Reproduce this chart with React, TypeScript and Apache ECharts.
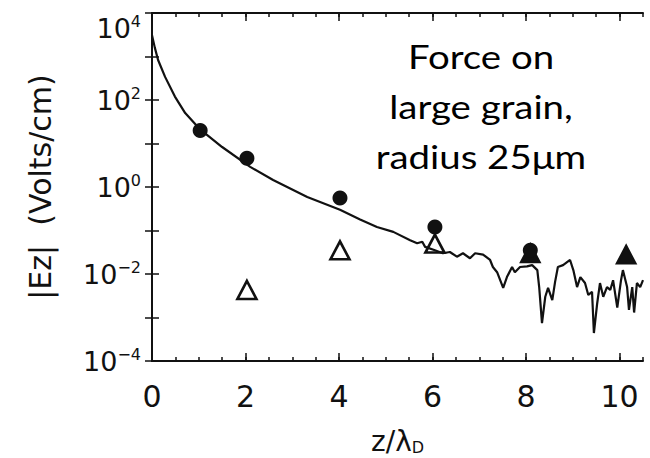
import React, { useEffect, useRef } from "react";
import * as echarts from "echarts";

// ---- data ----
const xTickValues = [0, 2, 4, 6, 8, 10];
const yLabelExponents = [-4, -2, 0, 2, 4];

const curveZ = [
  0, 0.06, 0.13, 0.28, 0.49, 0.71, 1.03, 1.5, 2.1, 2.59,
  3.32, 4.02, 4.45, 4.81, 5.16, 5.52, 5.67, 5.78, 5.84, 6.05,
  6.22, 6.37, 6.52, 6.65, 6.8, 6.91, 7.08, 7.23, 7.29, 7.38,
  7.51, 7.59, 7.7, 7.76, 7.87, 8.02, 8.13, 8.24, 8.28, 8.34,
  8.41, 8.47, 8.56, 8.62, 8.68, 8.79, 8.94, 9.01, 9.09, 9.16,
  9.26, 9.33, 9.41, 9.45, 9.52, 9.58, 9.65, 9.73, 9.8, 9.86,
  9.95, 10.03, 10.07, 10.16, 10.2, 10.27, 10.31, 10.37, 10.44, 10.5,
];
const curveE = [
  3100, 1600, 830, 340, 120, 50, 21, 8.3, 2.9, 1.45,
  0.59, 0.3, 0.18, 0.12, 0.093, 0.06, 0.051, 0.055, 0.042, 0.035,
  0.03, 0.032, 0.025, 0.03, 0.023, 0.03, 0.028, 0.021, 0.0145, 0.011,
  0.0048, 0.0085, 0.0145, 0.011, 0.0145, 0.015, 0.016, 0.0123, 0.005, 0.00074,
  0.003, 0.0048, 0.0025, 0.0066, 0.0145, 0.016, 0.021, 0.0123, 0.005, 0.0085,
  0.0062, 0.0033, 0.0039, 0.00044, 0.0021, 0.0062, 0.003, 0.005, 0.0043, 0.0072,
  0.0017, 0.0072, 0.0123, 0.005, 0.0015, 0.005, 0.0013, 0.0062, 0.005, 0.0072,
];

const circleZ = [1.03, 2.03, 4.02, 6.05, 8.09];
const circleE = [20, 4.6, 0.56, 0.12, 0.035];

const triangleZ = [2.03, 4.02, 6.05, 8.09, 10.14];
const triangleE = [0.0043, 0.035, 0.05, 0.03, 0.028];
const triangleFilled = [false, false, false, true, true];

const annotationLines = ["Force on", "large grain,", "radius 25μm"];

const INK = "#111";
const FONT = "DejaVu Sans";

export default function App() {
  const ref = useRef<HTMLDivElement>(null);

  useEffect(() => {
    if (!ref.current) return;
    const chart = echarts.init(ref.current, undefined, { renderer: "svg" });

    const tickBase = {
      inside: true,
      lineStyle: { color: INK, width: 1.5 },
    };

    const xMajor = (position: "bottom" | "top", labels: boolean) => ({
      type: "value",
      position,
      min: 0,
      max: 10.5,
      interval: 2,
      axisLine: { show: true, lineStyle: { color: INK, width: 2 } },
      axisTick: { ...tickBase, length: 8, customValues: xTickValues },
      splitLine: { show: false },
      axisLabel: labels
        ? {
            show: true,
            margin: 20,
            fontSize: 30,
            fontFamily: FONT,
            color: INK,
            customValues: xTickValues,
            formatter: (v: number) => String(v),
          }
        : { show: false },
      ...(labels
        ? {
            name: "{a|z/λ}{d|D}",
            nameLocation: "middle",
            nameGap: 66,
            nameTextStyle: {
              rich: {
                a: { fontSize: 28, fontFamily: FONT, color: INK, lineHeight: 30, verticalAlign: "top" },
                d: {
                  fontSize: 16,
                  fontFamily: FONT,
                  color: INK,
                  lineHeight: 26,
                  padding: [12, 0, 0, 0],
                  verticalAlign: "top",
                },
              },
            },
          }
        : {}),
    });

    const xMinor = (position: "bottom" | "top") => ({
      type: "value",
      position,
      min: 0,
      max: 10.5,
      interval: 0.5,
      axisLine: { show: false },
      axisTick: { ...tickBase, length: 4 },
      axisLabel: { show: false },
      splitLine: { show: false },
    });

    const yAxisDef = (position: "left" | "right", labels: boolean) => ({
      type: "log",
      logBase: 10,
      position,
      min: 1e-4,
      max: 1e4,
      splitNumber: 8,
      axisLine: { show: true, lineStyle: { color: INK, width: 2 } },
      axisTick: { ...tickBase, length: 7 },
      splitLine: { show: false },
      minorTick: { show: false },
      axisLabel: labels
        ? {
            show: true,
            margin: 11,
            color: INK,
            verticalAlignMaxLabel: "top",
            formatter: (v: number) => {
              const e = Math.round(Math.log10(v));
              if (!yLabelExponents.includes(e)) return "";
              const s = (e < 0 ? "−" : "") + Math.abs(e);
              return `{b|10}{s|${s}}`;
            },
            rich: {
              b: { fontSize: 27, fontFamily: FONT, color: INK, lineHeight: 30 },
              s: { fontSize: 16, fontFamily: FONT, color: INK, lineHeight: 10, verticalAlign: "top" },
            },
          }
        : { show: false },
      ...(labels
        ? {
            name: "|Ez|  (Volts/cm)",
            nameLocation: "middle",
            nameGap: 97,
            nameTextStyle: { fontSize: 30, fontFamily: FONT, color: INK },
          }
        : {}),
    });

    const option: any = {
      animation: false,
      backgroundColor: "#fff",
      grid: { left: 152, right: 7, top: 13, bottom: 97, outerBoundsMode: "none" },
      xAxis: [xMajor("bottom", true), xMajor("top", false), xMinor("bottom"), xMinor("top")],
      yAxis: [yAxisDef("left", true), yAxisDef("right", false)],
      series: [
        {
          type: "line",
          xAxisIndex: 0,
          yAxisIndex: 0,
          data: curveZ.map((z, i) => [z, curveE[i]]),
          showSymbol: false,
          symbol: "none",
          lineStyle: { color: INK, width: 2.2 },
          clip: true,
        },
        {
          type: "scatter",
          xAxisIndex: 0,
          yAxisIndex: 0,
          symbol: "triangle",
          symbolSize: [19, 18],
          data: triangleZ.map((z, i) => ({
            value: [z, triangleE[i]],
            itemStyle: triangleFilled[i]
              ? { color: INK, borderColor: INK, borderWidth: 2, opacity: 1 }
              : { color: "#fff", borderColor: INK, borderWidth: 2.6, opacity: 1 },
          })),
        },
        {
          type: "scatter",
          xAxisIndex: 0,
          yAxisIndex: 0,
          symbol: "circle",
          symbolSize: 15,
          itemStyle: { color: INK, opacity: 1 },
          data: circleZ.map((z, i) => [z, circleE[i]]),
        },
      ],
      graphic: annotationLines.map((t, i) => ({
        type: "text",
        x: 481,
        y: 57 + i * 50,
        scaleX: 1.2,
        style: {
          text: t,
          fontSize: 32,
          fontFamily: "Lato",
          fill: "#000",
          align: "center",
          verticalAlign: "middle",
        },
      })),
    };

    chart.setOption(option);
    return () => chart.dispose();
  }, []);

  return (
    <div
      ref={ref}
      style={{ position: "fixed", left: 0, top: 0, width: 650, height: 458, background: "#fff" }}
    />
  );
}
